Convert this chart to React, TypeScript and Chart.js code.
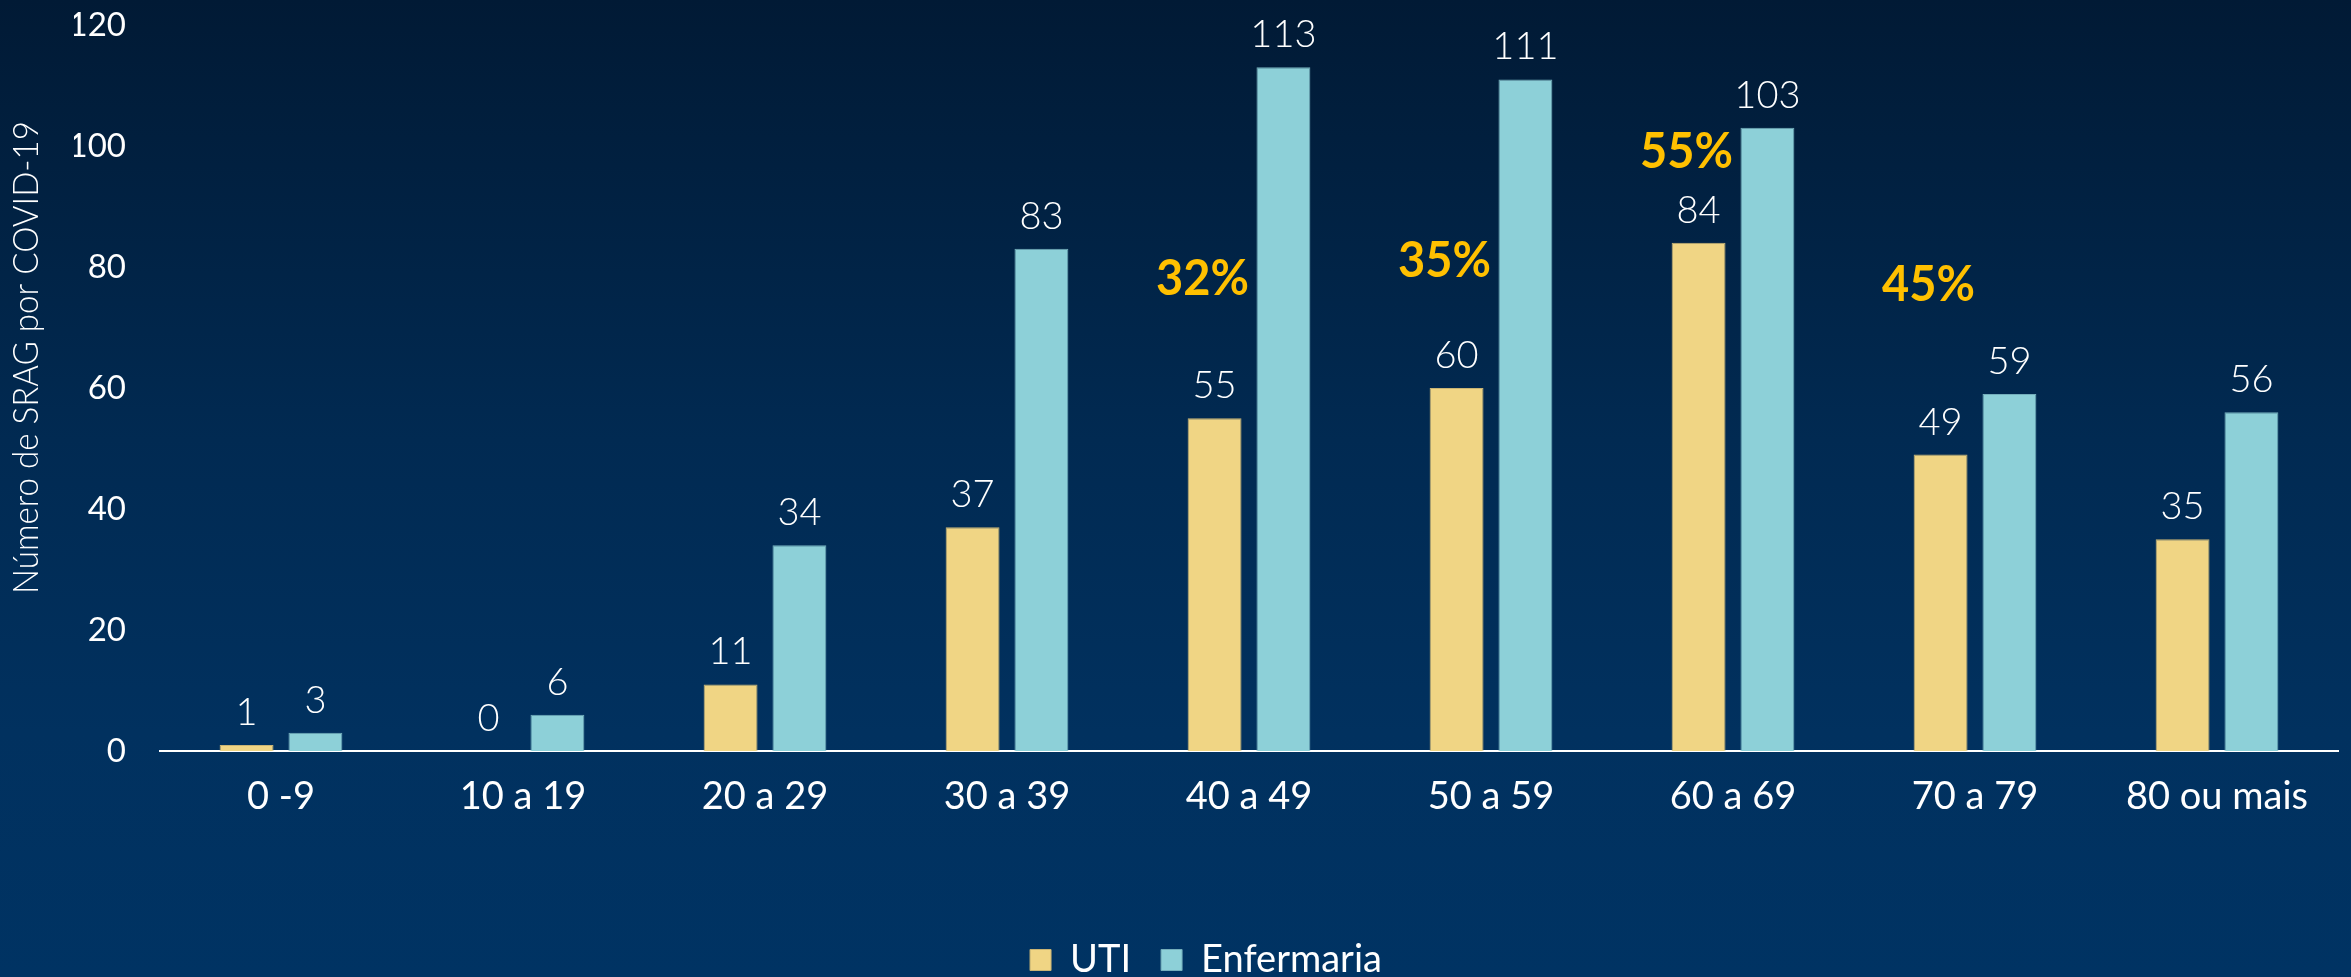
import { useEffect, useRef } from 'react';
import { Chart, registerables } from 'chart.js';

Chart.register(...registerables);

const ageGroups = ['0 -9', '10 a 19', '20 a 29', '30 a 39', '40 a 49', '50 a 59', '60 a 69', '70 a 79', '80 ou mais'];
const utiValues = [1, 0, 11, 37, 55, 60, 84, 49, 35];
const enfermariaValues = [3, 6, 34, 83, 113, 111, 103, 59, 56];
const yTicks = [0, 20, 40, 60, 80, 100, 120];

// share of UTI highlighted above some age groups
const pctLabels = ['32%', '35%', '55%', '45%'];
const pctGroups = ['40 a 49', '50 a 59', '60 a 69', '70 a 79'];
const pctLevels = [78, 81, 99, 77];

const yTitle = 'Número de SRAG por COVID-19';

const valueLabels = {
  id: 'valueLabels',
  afterDatasetsDraw(chart: any) {
    const { ctx } = chart;
    ctx.save();
    ctx.fillStyle = '#ffffff';
    ctx.font = '300 38px Lato';
    ctx.textAlign = 'center';
    ctx.textBaseline = 'alphabetic';
    chart.data.datasets.forEach((ds: any, i: number) => {
      const meta = chart.getDatasetMeta(i);
      meta.data.forEach((bar: any, j: number) => {
        ctx.fillText(String(ds.data[j]), bar.x, bar.y - 20);
      });
    });
    ctx.restore();
  }
};

const pctNotes = {
  id: 'pctNotes',
  afterDatasetsDraw(chart: any) {
    const { ctx } = chart;
    const yScale = chart.scales.y;
    const utiMeta = chart.getDatasetMeta(0);
    ctx.save();
    ctx.fillStyle = '#FFC000';
    ctx.font = 'bold 50px Lato';
    ctx.textAlign = 'center';
    ctx.textBaseline = 'middle';
    pctLabels.forEach((label, i) => {
      const idx = ageGroups.indexOf(pctGroups[i]);
      const bar = utiMeta.data[idx];
      ctx.fillText(label, bar.x - 12, yScale.getPixelForValue(pctLevels[i]), 93);
    });
    ctx.restore();
  }
};

const axisTitle = {
  id: 'axisTitle',
  afterDraw(chart: any) {
    const { ctx, chartArea } = chart;
    ctx.save();
    ctx.translate(chartArea.left - 133, chartArea.top + (chartArea.bottom - chartArea.top) * 0.458);
    ctx.rotate(-Math.PI / 2);
    ctx.fillStyle = '#ffffff';
    ctx.font = '300 35px Lato';
    ctx.textAlign = 'center';
    ctx.textBaseline = 'middle';
    ctx.fillText(yTitle, 0, 0, 473);
    ctx.restore();
  }
};

export default function App() {
  const canvasRef = useRef<HTMLCanvasElement>(null);
  const chartRef = useRef<Chart | null>(null);

  useEffect(() => {
    if (!canvasRef.current) return;
    if (chartRef.current) chartRef.current.destroy();

    chartRef.current = new Chart(canvasRef.current, {
      type: 'bar',
      data: {
        labels: ageGroups,
        datasets: [
          {
            label: 'UTI',
            data: utiValues,
            backgroundColor: '#F0D584',
            borderColor: '#C9B474',
            borderWidth: 1
          },
          {
            label: 'Enfermaria',
            data: enfermariaValues,
            backgroundColor: '#8DD0D8',
            borderColor: '#74AEBB',
            borderWidth: 1
          }
        ]
      },
      options: {
        responsive: true,
        maintainAspectRatio: false,
        animation: false,
        datasets: {
          bar: {
            categoryPercentage: 0.569,
            barPercentage: 0.783
          }
        },
        layout: {
          padding: { left: 74, right: 13, top: 25, bottom: -12 }
        },
        plugins: {
          legend: {
            position: 'bottom',
            labels: {
              color: '#ffffff',
              font: { family: 'Lato', size: 38 },
              boxWidth: 21,
              boxHeight: 21,
              padding: 30
            }
          },
          tooltip: { enabled: false }
        },
        scales: {
          x: {
            grid: { display: false, drawTicks: false },
            border: { display: true, color: '#ffffff', width: 2 },
            ticks: {
              color: '#ffffff',
              font: { family: 'Lato', size: 38 },
              padding: 23,
              maxRotation: 0
            },
            afterFit: (scale: any) => {
              scale.height = 160;
              scale.paddingLeft = 0;
              scale.paddingRight = 0;
            }
          },
          y: {
            min: yTicks[0],
            max: yTicks[yTicks.length - 1],
            grid: { display: false, drawTicks: false },
            border: { display: false },
            ticks: {
              stepSize: yTicks[1] - yTicks[0],
              color: '#ffffff',
              font: { family: 'Lato', size: 33 },
              padding: 34
            },
            afterFit: (scale: any) => {
              scale.width = 86;
              scale.paddingTop = 0;
              scale.paddingBottom = 0;
            }
          }
        }
      },
      plugins: [valueLabels, pctNotes, axisTitle]
    });

    return () => {
      if (chartRef.current) {
        chartRef.current.destroy();
        chartRef.current = null;
      }
    };
  }, []);

  return (
    <div
      style={{
        position: 'fixed',
        left: 0,
        top: 0,
        width: 2351,
        height: 977,
        background: 'linear-gradient(180deg, #011a35 0%, #012a52 45%, #01315f 75%, #003363 100%)'
      }}
    >
      <canvas ref={canvasRef}></canvas>
    </div>
  );
}
